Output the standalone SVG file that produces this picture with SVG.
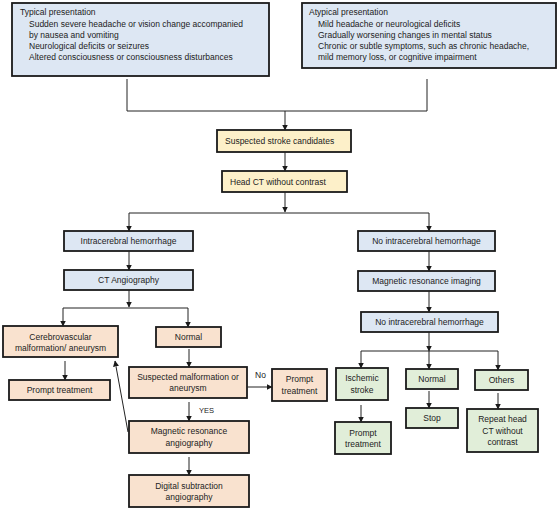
<svg xmlns="http://www.w3.org/2000/svg" width="560" height="509" viewBox="0 0 560 509">
<defs>
<marker id="ah" markerWidth="6" markerHeight="6" refX="5.5" refY="3" orient="auto" markerUnits="userSpaceOnUse">
<path d="M0,0 L6,3 L0,6 Z" fill="#1a1a1a"/>
</marker>
</defs>
<style>
text{font-family:"Liberation Sans",Arial,sans-serif;font-size:8.5px;fill:#222}
.c{text-anchor:middle}
.box{stroke:#1a1a1a;stroke-width:1.8}
.blue{fill:#dde7f3}
.yel{fill:#fdf0c9}
.pch{fill:#f9e2cf}
.grn{fill:#e1eed9}
.ln{fill:none;stroke:#222;stroke-width:1}
.ar{fill:none;stroke:#222;stroke-width:1;marker-end:url(#ah)}
</style>
<rect width="560" height="509" fill="#fff"/>
<g id="typical">
<rect class="box blue" x="12" y="3" width="257" height="73"/>
<text x="20" y="15">Typical presentation</text>
<text x="29" y="27">Sudden severe headache or vision change accompanied</text>
<text x="29" y="38">by nausea and vomiting</text>
<text x="29" y="49">Neurological deficits or seizures</text>
<text x="29" y="60">Altered consciousness or consciousness disturbances</text>
</g>
<g id="atypical">
<rect class="box blue" x="302" y="3" width="254" height="65"/>
<text x="309" y="15">Atypical presentation</text>
<text x="318" y="27">Mild headache or neurological deficits</text>
<text x="318" y="38">Gradually worsening changes in mental status</text>
<text x="318" y="49">Chronic or subtle symptoms, such as chronic   headache,</text>
<text x="318" y="60">mild memory loss, or cognitive impairment</text>
</g>
<g id="suspected">
<rect class="box yel" x="217" y="130" width="134" height="22"/>
<text x="225" y="144">Suspected stroke candidates</text>
</g>
<g id="headct">
<rect class="box yel" x="222" y="171" width="125" height="21"/>
<text x="230" y="185">Head CT without contrast</text>
</g>
<g id="ich">
<rect class="box blue" x="64" y="231" width="129" height="20"/>
<text class="c" x="128.5" y="244">Intracerebral hemorrhage</text>
</g>
<g id="cta">
<rect class="box blue" x="64" y="270" width="129" height="20"/>
<text class="c" x="128.5" y="283">CT Angiography</text>
</g>
<g id="cerebro">
<rect class="box pch" x="3" y="326" width="115" height="31"/>
<text class="c" x="60.5" y="340">Cerebrovascular</text>
<text class="c" x="60.5" y="351">malformation/ aneurysm</text>
</g>
<g id="normal-l">
<rect class="box pch" x="156" y="327" width="65" height="20"/>
<text class="c" x="188.5" y="340">Normal</text>
</g>
<g id="prompt-l">
<rect class="box pch" x="9" y="380" width="101" height="20"/>
<text class="c" x="59.5" y="393">Prompt treatment</text>
</g>
<g id="suspmal">
<rect class="box pch" x="129" y="367" width="118" height="31"/>
<text class="c" x="188" y="380">Suspected malformation or</text>
<text class="c" x="188" y="391">aneurysm</text>
</g>
<g id="prompt-m">
<rect class="box pch" x="272" y="369" width="55" height="32"/>
<text class="c" x="299.5" y="382">Prompt</text>
<text class="c" x="299.5" y="394">treatment</text>
</g>
<g id="mra">
<rect class="box pch" x="129" y="421" width="120" height="32"/>
<text class="c" x="189" y="434">Magnetic resonance</text>
<text class="c" x="189" y="446">angiography</text>
</g>
<g id="dsa">
<rect class="box pch" x="129" y="475" width="120" height="32"/>
<text class="c" x="189" y="489">Digital subtraction</text>
<text class="c" x="189" y="500">angiography</text>
</g>
<g id="noich1">
<rect class="box blue" x="358" y="231" width="137" height="20"/>
<text class="c" x="426.5" y="244">No intracerebral hemorrhage</text>
</g>
<g id="mri">
<rect class="box blue" x="358" y="271" width="137" height="20"/>
<text class="c" x="426.5" y="284">Magnetic resonance imaging</text>
</g>
<g id="noich2">
<rect class="box blue" x="361" y="312" width="137" height="20"/>
<text class="c" x="429.5" y="325">No intracerebral hemorrhage</text>
</g>
<g id="ischemic">
<rect class="box grn" x="336" y="368" width="52" height="32"/>
<text class="c" x="362" y="381">Ischemic</text>
<text class="c" x="362" y="393">stroke</text>
</g>
<g id="normal-r">
<rect class="box grn" x="406" y="369" width="52" height="20"/>
<text class="c" x="432" y="382">Normal</text>
</g>
<g id="others">
<rect class="box grn" x="475" y="370" width="53" height="20"/>
<text class="c" x="501.5" y="383">Others</text>
</g>
<g id="prompt-r">
<rect class="box grn" x="335" y="422" width="56" height="32"/>
<text class="c" x="363" y="436">Prompt</text>
<text class="c" x="363" y="447">treatment</text>
</g>
<g id="stop">
<rect class="box grn" x="406" y="408" width="52" height="20"/>
<text class="c" x="432" y="421">Stop</text>
</g>
<g id="repeat">
<rect class="box grn" x="467" y="409" width="71" height="43"/>
<text class="c" x="502.5" y="422">Repeat head</text>
<text class="c" x="502.5" y="434">CT without</text>
<text class="c" x="502.5" y="445">contrast</text>
</g>
<g id="connectors">
<path class="ln" d="M127,79 V111 H427 V79"/>
<path class="ar" d="M285,111 V130"/>
<path class="ar" d="M285,152 V171"/>
<path class="ar" d="M285,192 V212"/>
<path class="ln" d="M129,213 H429"/>
<path class="ar" d="M129,213 V231"/>
<path class="ar" d="M429,213 V231"/>
<path class="ar" d="M129,251 V270"/>
<path class="ar" d="M129,290 V307"/>
<path class="ln" d="M63,308 H188"/>
<path class="ar" d="M63,308 V326"/>
<path class="ar" d="M188,308 V327"/>
<path class="ar" d="M65,361 V380"/>
<path class="ar" d="M189,349 V367"/>
<path class="ar" d="M247,387 H272"/>
<text x="255" y="378">No</text>
<path class="ar" d="M189,402 V421"/>
<text x="199" y="413" style="font-size:7.5px">YES</text>
<path class="ar" d="M128,432 L115,361"/>
<path class="ar" d="M189,457 V475"/>
<path class="ar" d="M429,251 V271"/>
<path class="ar" d="M429,291 V312"/>
<path class="ar" d="M429,332 V351"/>
<path class="ln" d="M361,351 H498"/>
<path class="ar" d="M361,351 V368"/>
<path class="ar" d="M429,351 V369"/>
<path class="ar" d="M498,351 V370"/>
<path class="ar" d="M361,405 V422"/>
<path class="ar" d="M429,391 V408"/>
<path class="ar" d="M498,393 V409"/>
</g>
</svg>
